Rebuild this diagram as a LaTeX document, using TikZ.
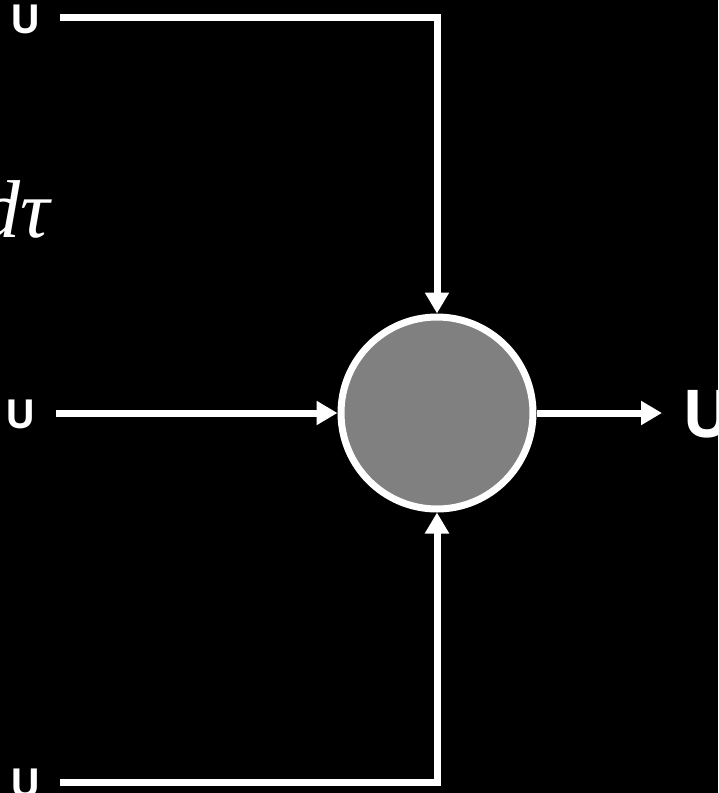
\documentclass[tikz,border=0pt]{standalone}
\usepackage{fontspec}
\setmainfont{Open Sans}
\newfontfamily\eqfnt{Liberation Serif}
\usetikzlibrary{arrows.meta}
\begin{document}
\begin{tikzpicture}[x=1pt,y=-1pt,
  wire/.style={draw=white, line width=7pt, line join=miter, line cap=butt},
  arr/.style={wire, -{Triangle[length=21pt,width=23pt]}},
  lbl/.style={text=white, inner sep=0pt, font=\bfseries\fontsize{40}{48}\selectfont},
  biglbl/.style={text=white, inner sep=0pt, font=\bfseries\fontsize{66}{78}\selectfont},
  sum/.style={circle, draw=white, line width=7pt, fill=black!50!white, minimum size=192pt, inner sep=0pt}]
\fill[black] (0,0) rectangle (718,793);
\useasboundingbox (0,0) rectangle (718,793);
\node[sum] (c) at (437,413) {};
\node[lbl, anchor=base] (utop) at (25.5,33) {U};
\node[lbl, anchor=base] (umid) at (20.5,428) {U};
\node[lbl, anchor=base] (ubot) at (25.5,797) {U};
\node[biglbl, anchor=base] (uout) at (707.5,437) {U};
\node[text=white, inner sep=0pt, anchor=base east, font=\eqfnt\itshape\fontsize{82}{90}\selectfont] (dt) at (50,237) {dτ};
\coordinate (stop) at (60,17);
\coordinate (smid) at (56,413);
\coordinate (sbot) at (60,782);
\coordinate (eout) at (662,413);
\draw[arr] (stop) -| (c.north);
\draw[arr] (sbot) -| (c.south);
\draw[arr] (smid) -- (c.west);
\draw[arr] (c.east) -- (eout);
\end{tikzpicture}
\end{document}
